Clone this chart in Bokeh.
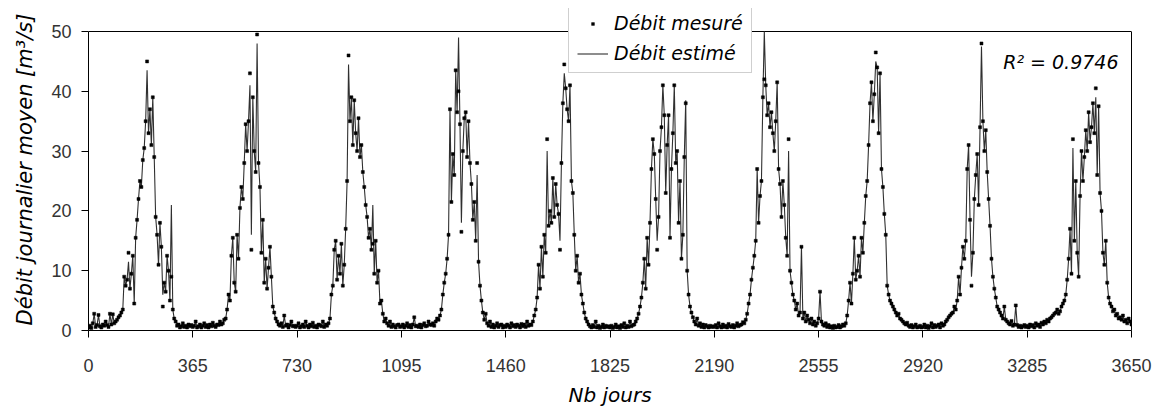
from bokeh.plotting import figure
from bokeh.models import Range1d, FixedTicker, LinearAxis, Legend, LegendItem, Label, Span
from bokeh.embed import file_html
from bokeh.resources import INLINE

# ---- tick labels / axis values ----
jours_ticks = [0, 365, 730, 1095, 1460, 1825, 2190, 2555, 2920, 3285, 3650]
debit_ticks = [0, 10, 20, 30, 40, 50]
PAS = 5  # days between two readings

# ---- measured daily discharge (m3/s), one reading every 5 days, year by year ----
mesure_an1 = [0.5, 0.8, 0.4, 1.2, 2.8, 0.6, 0.9, 2.6, 0.7, 0.5, 1.0, 0.8, 1.5, 0.9, 0.6, 2.8, 1.0, 2.7, 1.2, 1.5,
              1.8, 2.2, 2.5, 3.0, 3.5, 9.0, 7.5, 8.5, 13.0, 7.0, 9.5, 12.5, 4.5, 15.5, 18.5, 22.0, 25.0, 24.0, 28.5, 30.5,
              35.0, 45.0, 33.0, 37.0, 31.0, 39.0, 29.0, 19.0, 16.0, 11.0, 18.0, 14.0, 4.0, 8.0, 6.5, 12.5, 10.0, 5.0, 9.0, 3.5,
              2.0, 1.5, 0.8, 1.0, 0.5, 0.7, 1.2, 0.6, 0.8, 0.5, 1.0, 0.7, 0.9]
mesure_an2 = [0.6, 0.8, 1.5, 0.5, 0.7, 1.0, 0.5, 0.8, 1.2, 0.6, 0.9, 0.5, 1.0, 0.7, 1.3, 0.8, 0.6, 1.0, 0.9, 1.5,
              1.0, 1.2, 1.8, 2.0, 3.5, 6.0, 5.0, 12.5, 15.5, 8.0, 6.5, 16.0, 12.0, 20.5, 24.0, 22.0, 28.0, 34.5, 30.0, 35.0,
              43.0, 13.5, 39.0, 30.0, 26.5, 49.5, 28.0, 24.0, 13.0, 18.5, 8.0, 12.0, 7.0, 10.5, 14.0, 9.0, 4.0, 3.0, 2.0, 1.5,
              1.0, 0.8, 1.2, 0.6, 2.5, 0.8, 1.0, 0.5, 0.9, 1.5, 0.7, 0.8, 0.6]
mesure_an3 = [0.8, 1.2, 0.5, 0.7, 1.0, 0.6, 1.5, 0.8, 0.5, 1.0, 0.7, 1.3, 0.6, 0.8, 0.5, 1.0, 0.9, 0.7, 1.5, 0.6,
              1.0, 0.8, 1.2, 2.0, 6.0, 7.5, 13.5, 15.0, 8.5, 12.5, 9.5, 14.5, 7.5, 11.0, 17.0, 25.0, 46.0, 35.0, 39.0, 31.0,
              38.5, 33.0, 30.0, 35.5, 29.0, 31.0, 26.5, 24.0, 21.0, 19.0, 15.5, 17.0, 13.5, 14.5, 9.5, 15.0, 8.0, 10.0, 4.5, 5.0,
              2.8, 1.5, 2.0, 1.2, 0.8, 1.5, 0.6, 1.0, 0.7, 0.5, 0.9, 1.0, 0.6]
mesure_an4 = [0.7, 1.0, 0.5, 0.8, 1.2, 0.6, 0.9, 0.5, 1.0, 2.2, 0.7, 0.8, 0.6, 1.0, 0.5, 0.9, 1.2, 0.7, 0.8, 1.5,
              1.0, 0.9, 1.2, 0.8, 1.5, 2.0, 1.8, 2.5, 3.5, 6.0, 8.0, 9.5, 12.0, 16.0, 37.0, 21.5, 29.5, 26.0, 43.5, 36.5,
              40.0, 34.5, 16.5, 30.0, 35.5, 36.5, 29.0, 35.0, 28.0, 24.5, 18.5, 21.5, 15.0, 28.0, 11.5, 7.5, 5.0, 3.0, 1.8, 2.8,
              1.2, 0.8, 1.5, 0.6, 1.0, 0.5, 0.8, 1.2, 0.6, 0.9, 1.0, 0.5, 0.8]
mesure_an5 = [0.6, 1.0, 0.8, 0.5, 1.2, 0.7, 0.9, 0.6, 1.0, 0.8, 0.5, 1.1, 0.7, 1.0, 0.6, 1.5, 0.8, 1.0, 0.9, 1.5,
              2.5, 3.5, 5.5, 11.0, 7.0, 14.0, 9.0, 16.0, 13.0, 32.0, 17.5, 20.0, 18.0, 25.5, 19.0, 24.5, 21.0, 19.5, 13.5, 28.0,
              38.0, 44.5, 40.5, 37.0, 35.0, 41.0, 25.0, 23.0, 16.0, 10.0, 12.5, 8.0, 9.5, 6.0, 4.5, 3.0, 2.0, 1.5, 1.0, 0.7,
              0.5, 0.9, 0.6, 1.5, 0.5, 0.8, 0.4, 0.6, 1.0, 0.5, 0.8, 0.6, 0.7]
mesure_an6 = [0.5, 0.8, 0.4, 0.6, 1.0, 0.5, 0.7, 0.4, 0.9, 0.6, 1.2, 0.5, 0.8, 0.6, 1.5, 0.7, 0.9, 1.0, 1.5, 2.0,
              2.8, 4.0, 5.5, 8.0, 12.0, 7.0, 15.5, 11.0, 18.0, 27.0, 32.0, 29.5, 22.0, 13.5, 19.0, 30.0, 34.0, 41.0, 36.0, 23.0,
              31.0, 36.0, 15.5, 27.0, 33.0, 41.0, 28.0, 30.0, 18.0, 25.0, 12.0, 16.0, 29.0, 38.0, 10.0, 6.0, 4.0, 3.0, 2.2, 1.5,
              1.0, 2.0, 0.8, 1.2, 0.6, 1.0, 0.5, 0.9, 0.7, 0.5, 0.8, 0.6, 0.7]
mesure_an7 = [0.6, 0.9, 0.5, 1.2, 0.7, 0.5, 1.0, 0.6, 0.8, 0.5, 1.1, 0.7, 0.6, 0.9, 0.5, 0.8, 1.2, 0.7, 0.9, 1.0,
              1.4, 1.2, 1.8, 2.8, 4.5, 6.0, 8.5, 10.5, 12.5, 15.0, 27.0, 18.0, 22.5, 25.0, 39.0, 42.0, 41.0, 36.0, 38.0, 34.0,
              36.5, 33.0, 30.0, 35.0, 41.5, 27.0, 24.5, 19.0, 25.0, 21.0, 15.5, 12.5, 32.0, 10.0, 8.0, 6.0, 5.0, 3.5, 4.5, 2.5,
              3.0, 14.0, 2.0, 3.0, 1.5, 2.5, 1.8, 1.2, 2.0, 1.0, 1.5, 0.8, 1.2]
mesure_an8 = [2.0, 6.5, 1.5, 1.0, 0.8, 1.2, 0.6, 0.9, 0.5, 0.7, 0.4, 0.8, 0.5, 0.6, 0.9, 0.5, 0.7, 1.0, 0.8, 1.2,
              2.5, 5.0, 8.0, 4.5, 9.5, 15.5, 8.5, 10.0, 12.5, 9.0, 15.5, 13.0, 18.0, 22.5, 25.0, 31.0, 38.0, 41.5, 35.0, 39.5,
              46.5, 44.0, 33.0, 43.0, 27.0, 24.0, 19.5, 16.0, 7.5, 6.0, 5.0, 4.5, 4.0, 3.5, 3.0, 2.5, 2.8, 2.0, 1.8, 1.5,
              1.2, 1.0, 1.3, 0.8, 0.6, 0.9, 0.5, 0.7, 1.0, 0.5, 0.6, 0.8, 0.5]
mesure_an9 = [0.6, 1.0, 0.5, 0.8, 0.4, 0.7, 1.2, 0.5, 0.9, 0.6, 0.8, 1.0, 0.5, 1.2, 0.8, 1.0, 1.5, 1.8, 2.2, 2.5,
              2.8, 3.0, 4.0, 3.5, 5.0, 9.0, 6.0, 10.5, 14.0, 12.0, 15.0, 27.0, 31.0, 18.5, 7.5, 13.0, 22.0, 26.0, 29.5, 21.0,
              34.0, 48.0, 35.0, 30.0, 33.5, 26.5, 22.0, 17.5, 12.0, 9.0, 7.0, 5.5, 4.0, 3.5, 3.0, 2.5, 2.0, 4.0, 1.8, 1.5,
              1.2, 1.0, 1.6, 0.8, 1.0, 4.2, 0.9, 0.6, 0.8, 0.5, 0.7, 0.9, 0.6]
mesure_an10 = [0.8, 0.5, 1.0, 0.7, 0.9, 0.5, 1.2, 0.8, 1.0, 0.6, 1.3, 1.0, 1.5, 1.2, 1.8, 1.5, 2.0, 2.2, 2.5, 2.8,
               3.0, 3.5, 2.8, 3.2, 4.0, 4.5, 5.0, 6.0, 8.5, 12.0, 17.0, 9.5, 32.0, 15.0, 25.0, 13.0, 9.0, 22.5, 30.0, 25.0,
               29.0, 33.5, 30.0, 36.5, 31.5, 34.0, 38.0, 33.0, 40.5, 26.0, 37.5, 23.0, 20.0, 13.0, 11.0, 15.0, 8.0, 5.5, 4.5, 4.0,
               3.2, 3.5, 2.5, 2.8, 2.0, 2.2, 1.8, 2.5, 1.5, 1.8, 1.2, 2.0, 1.5, 1.0]

# ---- estimated daily discharge (model), same dates ----
estime_an1 = [0.5, 0.8, 0.4, 1.2, 2.8, 0.6, 0.9, 2.6, 0.7, 0.5, 1.0, 0.8, 1.5, 0.9, 0.6, 2.8, 1.0, 2.7, 1.2, 1.5,
              1.8, 2.2, 2.5, 3.0, 3.5, 9.0, 7.5, 8.5, 11.5, 7.0, 9.5, 12.5, 4.5, 15.5, 18.5, 22.0, 25.0, 24.0, 28.5, 30.5,
              35.0, 43.5, 33.0, 37.0, 31.0, 39.0, 29.0, 19.0, 16.0, 11.0, 18.0, 14.0, 6.0, 8.0, 6.5, 12.5, 10.0, 5.0, 21.0, 3.5,
              2.0, 1.5, 0.8, 1.0, 0.5, 0.7, 1.2, 0.6, 0.8, 0.5, 1.0, 0.7, 0.9]
estime_an2 = [0.6, 0.8, 1.5, 0.5, 0.7, 1.0, 0.5, 0.8, 1.2, 0.6, 0.9, 0.5, 1.0, 0.7, 1.3, 0.8, 0.6, 1.0, 0.9, 1.5,
              1.0, 1.2, 1.8, 2.0, 3.5, 6.0, 5.0, 12.5, 15.5, 8.0, 6.5, 16.0, 12.0, 20.5, 24.0, 22.0, 28.0, 34.5, 30.0, 35.0,
              41.0, 16.0, 39.0, 30.0, 26.5, 48.0, 28.0, 24.0, 13.0, 18.5, 8.0, 12.0, 7.0, 10.5, 14.0, 9.0, 4.0, 3.0, 2.0, 1.5,
              1.0, 0.8, 1.2, 0.6, 2.5, 0.8, 1.0, 0.5, 0.9, 1.5, 0.7, 0.8, 0.6]
estime_an3 = [0.8, 1.2, 0.5, 0.7, 1.0, 0.6, 1.5, 0.8, 0.5, 1.0, 0.7, 1.3, 0.6, 0.8, 0.5, 1.0, 0.9, 0.7, 1.5, 0.6,
              1.0, 0.8, 1.2, 2.0, 6.0, 7.5, 13.5, 15.0, 8.5, 12.5, 9.5, 14.5, 7.5, 11.0, 17.0, 25.0, 44.5, 35.0, 39.0, 31.0,
              38.5, 33.0, 30.0, 35.5, 29.0, 31.0, 26.5, 24.0, 21.0, 19.0, 15.5, 17.0, 13.5, 21.0, 9.5, 15.0, 8.0, 10.0, 4.5, 5.0,
              2.8, 1.5, 2.0, 1.2, 0.8, 1.5, 0.6, 1.0, 0.7, 0.5, 0.9, 1.0, 0.6]
estime_an4 = [0.7, 1.0, 0.5, 0.8, 1.2, 0.6, 0.9, 0.5, 1.0, 2.2, 0.7, 0.8, 0.6, 1.0, 0.5, 0.9, 1.2, 0.7, 0.8, 1.5,
              1.0, 0.9, 1.2, 0.8, 1.5, 2.0, 1.8, 2.5, 3.5, 6.0, 8.0, 9.5, 12.0, 16.0, 37.0, 21.5, 29.5, 26.0, 43.5, 36.5,
              49.0, 34.5, 18.0, 30.0, 35.5, 36.5, 29.0, 35.0, 28.0, 24.5, 18.5, 21.5, 15.0, 26.0, 11.5, 7.5, 5.0, 3.0, 1.8, 2.8,
              1.2, 0.8, 1.5, 0.6, 1.0, 0.5, 0.8, 1.2, 0.6, 0.9, 1.0, 0.5, 0.8]
estime_an5 = [0.6, 1.0, 0.8, 0.5, 1.2, 0.7, 0.9, 0.6, 1.0, 0.8, 0.5, 1.1, 0.7, 1.0, 0.6, 1.5, 0.8, 1.0, 0.9, 1.5,
              2.5, 3.5, 5.5, 11.0, 7.0, 14.0, 9.0, 16.0, 13.0, 30.0, 17.5, 20.0, 18.0, 25.5, 19.0, 24.5, 21.0, 19.5, 15.0, 28.0,
              38.0, 43.0, 40.5, 37.0, 35.0, 41.0, 25.0, 23.0, 16.0, 10.0, 12.5, 8.0, 9.5, 6.0, 4.5, 3.0, 2.0, 1.5, 1.0, 0.7,
              0.5, 0.9, 0.6, 1.5, 0.5, 0.8, 0.4, 0.6, 1.0, 0.5, 0.8, 0.6, 0.7]
estime_an6 = [0.5, 0.8, 0.4, 0.6, 1.0, 0.5, 0.7, 0.4, 0.9, 0.6, 1.2, 0.5, 0.8, 0.6, 1.5, 0.7, 0.9, 1.0, 1.5, 2.0,
              2.8, 4.0, 5.5, 8.0, 12.0, 7.0, 15.5, 11.0, 18.0, 27.0, 32.0, 29.5, 22.0, 15.0, 19.0, 30.0, 34.0, 41.0, 36.0, 23.0,
              31.0, 36.0, 15.5, 27.0, 33.0, 41.0, 28.0, 30.0, 18.0, 25.0, 12.0, 16.0, 29.0, 38.5, 10.0, 6.0, 4.0, 3.0, 2.2, 1.5,
              1.0, 2.0, 0.8, 1.2, 0.6, 1.0, 0.5, 0.9, 0.7, 0.5, 0.8, 0.6, 0.7]
estime_an7 = [0.6, 0.9, 0.5, 1.2, 0.7, 0.5, 1.0, 0.6, 0.8, 0.5, 1.1, 0.7, 0.6, 0.9, 0.5, 0.8, 1.2, 0.7, 0.9, 1.0,
              1.4, 1.2, 1.8, 2.8, 4.5, 6.0, 8.5, 10.5, 12.5, 15.0, 27.0, 18.0, 22.5, 25.0, 39.0, 50.0, 41.0, 36.0, 38.0, 34.0,
              36.5, 33.0, 30.0, 35.0, 41.5, 27.0, 24.5, 19.0, 25.0, 21.0, 15.5, 12.5, 30.0, 10.0, 8.0, 6.0, 5.0, 3.5, 4.5, 2.5,
              3.0, 14.0, 2.0, 3.0, 1.5, 2.5, 1.8, 1.2, 2.0, 1.0, 1.5, 0.8, 1.2]
estime_an8 = [2.0, 6.5, 1.5, 1.0, 0.8, 1.2, 0.6, 0.9, 0.5, 0.7, 0.4, 0.8, 0.5, 0.6, 0.9, 0.5, 0.7, 1.0, 0.8, 1.2,
              2.5, 5.0, 8.0, 4.5, 9.5, 15.5, 8.5, 10.0, 12.5, 9.0, 15.5, 13.0, 18.0, 22.5, 25.0, 31.0, 38.0, 41.5, 35.0, 39.5,
              45.0, 44.0, 33.0, 43.0, 27.0, 24.0, 19.5, 16.0, 7.5, 6.0, 5.0, 4.5, 4.0, 3.5, 3.0, 2.5, 2.8, 2.0, 1.8, 1.5,
              1.2, 1.0, 1.3, 0.8, 0.6, 0.9, 0.5, 0.7, 1.0, 0.5, 0.6, 0.8, 0.5]
estime_an9 = [0.6, 1.0, 0.5, 0.8, 0.4, 0.7, 1.2, 0.5, 0.9, 0.6, 0.8, 1.0, 0.5, 1.2, 0.8, 1.0, 1.5, 1.8, 2.2, 2.5,
              2.8, 3.0, 4.0, 3.5, 5.0, 9.0, 6.0, 10.5, 14.0, 12.0, 15.0, 27.0, 31.0, 18.5, 9.0, 13.0, 22.0, 26.0, 29.5, 21.0,
              34.0, 47.5, 35.0, 30.0, 33.5, 26.5, 22.0, 17.5, 12.0, 9.0, 7.0, 5.5, 4.0, 3.5, 3.0, 2.5, 2.0, 4.0, 1.8, 1.5,
              1.2, 1.0, 1.6, 0.8, 1.0, 4.2, 0.9, 0.6, 0.8, 0.5, 0.7, 0.9, 0.6]
estime_an10 = [0.8, 0.5, 1.0, 0.7, 0.9, 0.5, 1.2, 0.8, 1.0, 0.6, 1.3, 1.0, 1.5, 1.2, 1.8, 1.5, 2.0, 2.2, 2.5, 2.8,
               3.0, 3.5, 2.8, 3.2, 4.0, 4.5, 5.0, 6.0, 8.5, 12.0, 17.0, 9.5, 30.5, 15.0, 25.0, 13.0, 9.0, 22.5, 30.0, 25.0,
               29.0, 33.5, 30.0, 36.5, 31.5, 34.0, 38.0, 33.0, 39.0, 26.0, 37.5, 23.0, 20.0, 13.0, 11.0, 15.0, 8.0, 5.5, 4.5, 4.0,
               3.2, 3.5, 2.5, 2.8, 2.0, 2.2, 1.8, 2.5, 1.5, 1.8, 1.2, 2.0, 1.5, 1.0]

mesure_annees = [mesure_an1, mesure_an2, mesure_an3, mesure_an4, mesure_an5,
                 mesure_an6, mesure_an7, mesure_an8, mesure_an9, mesure_an10]
estime_annees = [estime_an1, estime_an2, estime_an3, estime_an4, estime_an5,
                 estime_an6, estime_an7, estime_an8, estime_an9, estime_an10]

jours, mesure, estime = [], [], []
for k, (m_an, e_an) in enumerate(zip(mesure_annees, estime_annees)):
    for i, (vm, ve) in enumerate(zip(m_an, e_an)):
        jours.append(365 * k + PAS * i)
        mesure.append(vm)
        estime.append(ve)

FONT_LBL = "DejaVu Sans"
FONT_TICK = "Liberation Sans"
Y_MAX = 50
# frame reaches up to the top of the legend box; the chart box itself stops at 50
Y_TOP = Y_MAX * 322 / 299

p = figure(width=1166, height=409, output_backend="svg", toolbar_location=None,
           x_range=Range1d(0, 3650), y_range=Range1d(0, Y_TOP),
           min_border_left=88, min_border_right=35, min_border_top=8, min_border_bottom=79)
p.outline_line_color = None
p.grid.visible = False
p.background_fill_color = "white"
p.border_fill_color = "white"

r_line = p.line(jours, estime, line_color="#303030", line_width=1.1)
r_pts = p.scatter(jours, mesure, marker="square", size=3.0,
                  fill_color="black", line_color="black", line_width=0.5)

# axes
p.xaxis.ticker = FixedTicker(ticks=jours_ticks)
p.yaxis.ticker = FixedTicker(ticks=debit_ticks)
p.yaxis.bounds = (0, Y_MAX)
for ax in (p.xaxis[0], p.yaxis[0]):
    ax.axis_line_color = "black"
    ax.axis_line_width = 1
    ax.major_tick_line_color = "black"
    ax.major_tick_in = 0
    ax.major_tick_out = 7
    ax.minor_tick_line_color = None
    ax.major_label_text_font = FONT_TICK
    ax.major_label_text_font_size = "18px"
    ax.major_label_text_color = "#333333"
    ax.axis_label_text_font = FONT_LBL
    ax.axis_label_text_font_style = "italic"
    ax.axis_label_text_color = "black"

p.xaxis.axis_label = "Nb jours"
p.yaxis.axis_label = "Débit journalier moyen [m³/s]"
p.xaxis.axis_label_text_font_size = "20px"
p.yaxis.axis_label_text_font_size = "21px"
p.xaxis.major_label_standoff = 21
p.yaxis.major_label_standoff = 10
p.xaxis.axis_label_standoff = 8
p.yaxis.axis_label_standoff = 11

# right side of the chart box
right_ax = LinearAxis(ticker=FixedTicker(ticks=[]), bounds=(0, Y_MAX), axis_line_color="black",
                      major_tick_line_color=None, minor_tick_line_color=None,
                      major_label_text_alpha=0)
p.add_layout(right_ax, "right")
# top side of the chart box (at 50)
p.add_layout(Span(location=Y_MAX, dimension="width", line_color="black", line_width=1, level="underlay"))

legend = Legend(items=[LegendItem(label="Débit mesuré", renderers=[r_pts]),
                       LegendItem(label="Débit estimé", renderers=[r_line])],
                location=(480, 257), orientation="vertical",
                label_text_font=FONT_LBL, label_text_font_style="italic",
                label_text_font_size="19px", label_text_color="black",
                glyph_width=31, glyph_height=7, label_height=20, label_standoff=6,
                spacing=8, padding=8, margin=0,
                border_line_color="#a0a0a0", border_line_width=1,
                background_fill_color="white", background_fill_alpha=1.0)
p.add_layout(legend)

r2 = Label(x=1030, y=269, x_units="screen", y_units="screen", text="R² = 0.9746",
           text_align="right", text_baseline="alphabetic",
           text_font=FONT_LBL, text_font_style="italic", text_font_size="19px",
           text_color="black")
p.add_layout(r2)

open("out.html", "w").write(file_html(p, INLINE))
